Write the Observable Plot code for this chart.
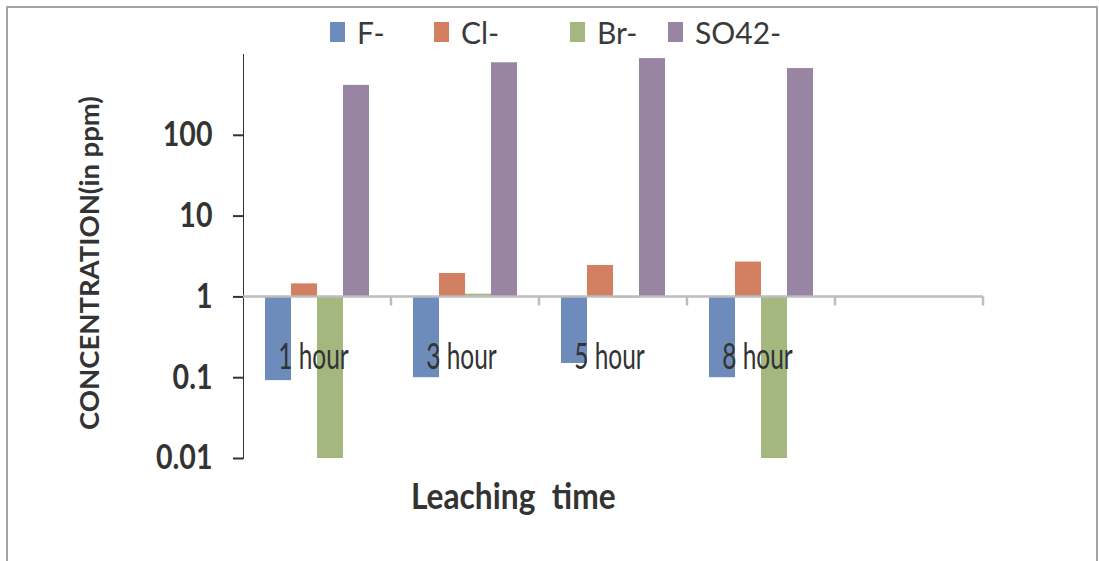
<!DOCTYPE html>
<html>
<head>
<meta charset="utf-8">
<script src="https://cdn.jsdelivr.net/npm/d3@7"></script>
<script src="https://cdn.jsdelivr.net/npm/@observablehq/plot@0.6"></script>
<style>
  body { margin: 0; background: #fff; }
  #wrap { position: relative; width: 1099px; height: 561px; overflow: hidden; background: #fff;
          font-family: Lato, 'DejaVu Sans Condensed', sans-serif; color: #333; }
  #border { position: absolute; left: 6px; top: 6px; width: 1092px; height: 620px;
            border: 2px solid #a3a3a3; box-sizing: border-box; }
  #chart { position: absolute; left: 0; top: 0; }
  #legend { position: absolute; top: 20px; left: 330px; display: flex; align-items: center;
            font-size: 30px; color: #3a3a3a; line-height: 24px; }
  #legend .item { display: flex; align-items: center; }
  #legend .item:nth-child(1) { width: 104px; }
  #legend .item:nth-child(2) { width: 136px; }
  #legend .item:nth-child(3) { width: 98px; }
  #legend .sw { width: 15px; height: 20px; margin-right: 12px; }
  #xtitle { position: absolute; top: 475px; left: 0; width: 1026px; text-align: center; line-height: 40px; }
  #xtitle span { display: inline-block; font-size: 36px; font-weight: bold; color: #333; word-spacing: 10px;
                 transform: scaleX(0.88); }
  #ytitle { position: absolute; left: 89px; top: 263px; transform: translate(-50%, -50%) rotate(-90deg);
            white-space: nowrap; font-size: 27.5px; font-weight: bold; color: #333; line-height: 30px; }
  #chart svg { font-family: Lato, 'DejaVu Sans Condensed', sans-serif; overflow: visible; }
</style>
</head>
<body>
<div id="wrap">
  <div id="border"></div>
  <div id="chart"></div>
  <div id="legend"></div>
  <div id="ytitle">CONCENTRATION(in ppm)</div>
  <div id="xtitle"><span>Leaching time</span></div>
</div>
<script>
// ---- data ----
const categories = ["1 hour", "3 hour", "5 hour", "8 hour"];
const series = ["F-", "Cl-", "Br-", "SO42-"];
const valuesF   = [0.092, 0.10, 0.15, 0.10];
const valuesCl  = [1.45, 1.95, 2.45, 2.7];
const valuesBr  = [0.01, 1.08, 0.96, 0.01];
const valuesSO4 = [415, 790, 890, 670];
const yTicks = [0.01, 0.1, 1, 10, 100];
const yTickLabels = ["0.01", "0.1", "1", "10", "100"];
const colors = ["#6d8cbb", "#d37f61", "#a4b77f", "#9885a4"];

const seriesValues = [valuesF, valuesCl, valuesBr, valuesSO4];
const rows = [];
categories.forEach((cat, i) => {
  series.forEach((s, j) => rows.push({cat, series: s, value: seriesValues[j][i]}));
});
const fxDomain = [...categories, " "];

const chart = Plot.plot({
  width: 1099,
  height: 561,
  marginTop: 54,
  marginBottom: 103,
  marginLeft: 243,
  marginRight: 116,
  style: {fontSize: "34px", color: "#333", background: "transparent"},
  facet: {data: rows, x: "cat"},
  fx: {domain: fxDomain, padding: 0, axis: null, label: null},
  x: {domain: series, paddingInner: 0, paddingOuter: 0.77, axis: null, label: null},
  y: {
    type: "log",
    domain: [0.01, 1000],
    ticks: yTicks,
    tickFormat: d => yTickLabels[yTicks.indexOf(d)],
    tickSize: 10,
    tickPadding: 21,
    line: true,
    label: null
  },
  color: {domain: series, range: colors},
  marks: [
    Plot.barY(rows, {x: "series", y1: () => 1, y2: "value", fill: "series"}),
    Plot.text(rows, {
      filter: d => d.series === "F-",
      text: "cat",
      y: () => 1,
      dy: 60,
      dx: -4,
      frameAnchor: "middle",
      fontSize: 37,
      fill: "#333"
    })
  ]
});
document.getElementById("chart").appendChild(chart);

const svg = d3.select(chart);
// narrow the glyphs of svg text (the reference font is condensed)
function squeeze(sel, k) {
  sel.each(function() {
    const L = this.getComputedTextLength();
    if (L > 0) {
      this.setAttribute("textLength", L * k);
      this.setAttribute("lengthAdjust", "spacingAndGlyphs");
    }
  });
}

// style the y axis
svg.selectAll('[aria-label="y-axis tick"]').attr("stroke", "#b0b0b0").attr("stroke-width", 2);
const yLabels = svg.selectAll('[aria-label="y-axis tick label"] text')
  .attr("font-weight", "bold").attr("fill", "#333");
squeeze(yLabels, 0.84);
squeeze(svg.selectAll('[aria-label="text"] text'), 0.66);

// horizontal category axis at y = 1 with tick marks at band edges
const fx = chart.scale("fx");
const y = chart.scale("y");
const y1 = y.apply(1);
const edges = fx.domain.map(d => fx.apply(d));
edges.push(fx.range[1]);
const g = svg.append("g").attr("stroke", "#bdbdbd").attr("stroke-width", 2.5);
g.append("line").attr("x1", edges[0]).attr("x2", edges[edges.length - 1]).attr("y1", y1).attr("y2", y1);
edges.slice(1).forEach(x => g.append("line").attr("x1", x).attr("x2", x).attr("y1", y1).attr("y2", y1 + 9));

// legend
const legend = d3.select("#legend");
series.forEach((s, i) => {
  const it = legend.append("div").attr("class", "item");
  it.append("div").attr("class", "sw").style("background", colors[i]);
  it.append("span").text(s);
});
</script>
</body>
</html>
